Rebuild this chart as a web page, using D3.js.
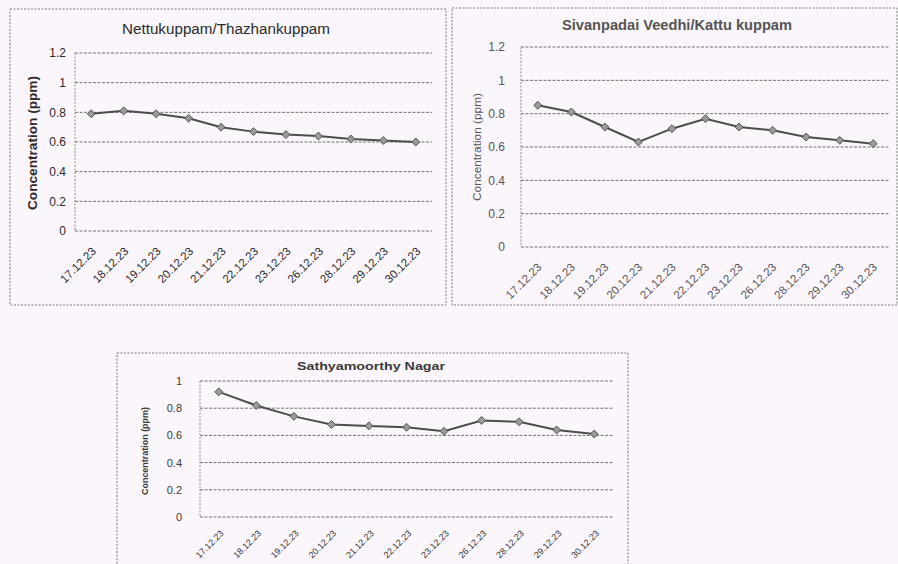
<!DOCTYPE html>
<html>
<head>
<meta charset="utf-8">
<script src="https://cdn.jsdelivr.net/npm/d3@7"></script>
<style>
  html, body { margin: 0; padding: 0; background: #fbf6fb; }
  svg { display: block; }
  text { font-family: "Liberation Sans", Arial, sans-serif; }
</style>
</head>
<body>
<svg id="chart" width="898" height="564"></svg>
<script>
// ---- data ----
const categories = ["17.12.23","18.12.23","19.12.23","20.12.23","21.12.23","22.12.23","23.12.23","26.12.23","28.12.23","29.12.23","30.12.23"];
const nettukuppam   = [0.79, 0.81, 0.79, 0.76, 0.70, 0.67, 0.65, 0.64, 0.62, 0.61, 0.60];
const sivanpadai    = [0.85, 0.81, 0.72, 0.63, 0.71, 0.77, 0.72, 0.70, 0.66, 0.64, 0.62];
const sathyamoorthy = [0.92, 0.82, 0.74, 0.68, 0.67, 0.66, 0.63, 0.71, 0.70, 0.64, 0.61];
const ticksTo12 = [0, 0.2, 0.4, 0.6, 0.8, 1, 1.2];
const ticksTo1  = [0, 0.2, 0.4, 0.6, 0.8, 1];
const titles = ["Nettukuppam/Thazhankuppam", "Sivanpadai Veedhi/Kattu kuppam", "Sathyamoorthy Nagar"];
const yTitle = "Concentration (ppm)";

const svg = d3.select("#chart");

function panel(opt) {
  const g = svg.append("g");
  // outer box
  g.append("rect")
    .attr("x", opt.box[0]).attr("y", opt.box[1])
    .attr("width", opt.box[2]).attr("height", opt.box[3])
    .attr("fill", "none").attr("stroke", "#7a7a7a")
    .attr("stroke-width", 1).attr("stroke-dasharray", "2,1.5");

  const x = d3.scalePoint().domain(opt.cats).range([opt.l, opt.r]).padding(0.5);
  const y = d3.scaleLinear().domain([0, d3.max(opt.ticks)]).range([opt.b, opt.t]);

  // gridlines
  g.append("g").selectAll("line").data(opt.ticks).join("line")
    .attr("x1", opt.l).attr("x2", opt.r)
    .attr("y1", d => y(d)).attr("y2", d => y(d))
    .attr("stroke", "#5a5a5a").attr("stroke-width", 1)
    .attr("stroke-dasharray", "3,1.5").attr("opacity", 0.85);
  // left axis line
  g.append("line").attr("x1", opt.l).attr("x2", opt.l)
    .attr("y1", y(d3.max(opt.ticks))).attr("y2", opt.b)
    .attr("stroke", "#8a8a8a").attr("stroke-dasharray", "2,1.5");

  // y axis labels
  const yAx = g.append("g").attr("transform", `translate(${opt.l},0)`)
    .call(d3.axisLeft(y).tickValues(opt.ticks).tickSize(0).tickPadding(opt.yPad)
      .tickFormat(d => String(+d.toFixed(1))));
  yAx.select(".domain").remove();
  yAx.selectAll("text")
    .attr("font-size", opt.tickFont).attr("fill", opt.color)
    .attr("font-family", "Liberation Sans, Arial, sans-serif");

  // x axis labels (rotated)
  const xAx = g.append("g").attr("transform", `translate(0,${opt.b})`)
    .call(d3.axisBottom(x).tickSize(0));
  xAx.select(".domain").remove();
  xAx.selectAll("text")
    .attr("y", 0).attr("dy", 0)
    .attr("text-anchor", "end")
    .attr("transform", `translate(${opt.xdx},${opt.xdy}) rotate(-45)`)
    .attr("font-size", opt.xFont).attr("fill", opt.color)
    .attr("font-family", "Liberation Sans, Arial, sans-serif");

  // line + markers
  const pts = opt.cats.map((c, i) => [x(c), y(opt.vals[i])]);
  g.append("path").attr("d", d3.line()(pts))
    .attr("fill", "none").attr("stroke", "#4d4d4d").attr("stroke-width", 2);
  g.append("g").selectAll("path").data(pts).join("path")
    .attr("d", d3.symbol(d3.symbolDiamond2, 40)())
    .attr("transform", d => `translate(${d[0]},${d[1]})`)
    .attr("fill", "#9a9a9a").attr("stroke", "#555").attr("stroke-width", 1);

  // title
  const t = g.append("text").attr("x", opt.titleX).attr("y", opt.titleY)
    .attr("text-anchor", "middle").attr("font-size", opt.titleFont)
    .attr("font-weight", opt.titleWeight).attr("fill", opt.color)
    .text(opt.title);
  if (opt.titleLen) t.attr("textLength", opt.titleLen).attr("lengthAdjust", "spacingAndGlyphs");

  // y title
  const yt = g.append("text")
    .attr("transform", `translate(${opt.ytX},${opt.ytY}) rotate(-90)`)
    .attr("text-anchor", "middle").attr("font-size", opt.ytFont)
    .attr("font-weight", opt.ytWeight).attr("fill", opt.color)
    .text(yTitle);
  if (opt.ytLen) yt.attr("textLength", opt.ytLen).attr("lengthAdjust", "spacingAndGlyphs");
}

panel({
  box: [10, 9, 436, 296], l: 75, r: 432, t: 53, b: 231,
  cats: categories, vals: nettukuppam, ticks: ticksTo12,
  color: "#2b2b2b", tickFont: 12, yPad: 9, xFont: 11.5, xdx: 5, xdy: 21,
  title: titles[0], titleX: 226, titleY: 34, titleFont: 14, titleWeight: "normal", titleLen: 208,
  ytX: 37, ytY: 143, ytFont: 12, ytWeight: "bold", ytLen: 134
});

panel({
  box: [452, 8, 445, 297], l: 521, r: 890, t: 47, b: 247,
  cats: categories, vals: sivanpadai, ticks: ticksTo12,
  color: "#555555", tickFont: 12, yPad: 16, xFont: 11.5, xdx: 4, xdy: 21,
  title: titles[1], titleX: 677, titleY: 30, titleFont: 14, titleWeight: "bold", titleLen: 230,
  ytX: 481, ytY: 147, ytFont: 11, ytWeight: "normal", ytLen: 108
});

panel({
  box: [117, 353, 511, 240], l: 200, r: 613, t: 381, b: 517,
  cats: categories, vals: sathyamoorthy, ticks: ticksTo1,
  color: "#3a3a3a", tickFont: 11, yPad: 18, xFont: 9, xdx: 5, xdy: 17,
  title: titles[2], titleX: 371, titleY: 370, titleFont: 10.5, titleWeight: "bold", titleLen: 148,
  ytX: 148, ytY: 451, ytFont: 9, ytWeight: "bold", ytLen: 88
});
</script>
</body>
</html>
